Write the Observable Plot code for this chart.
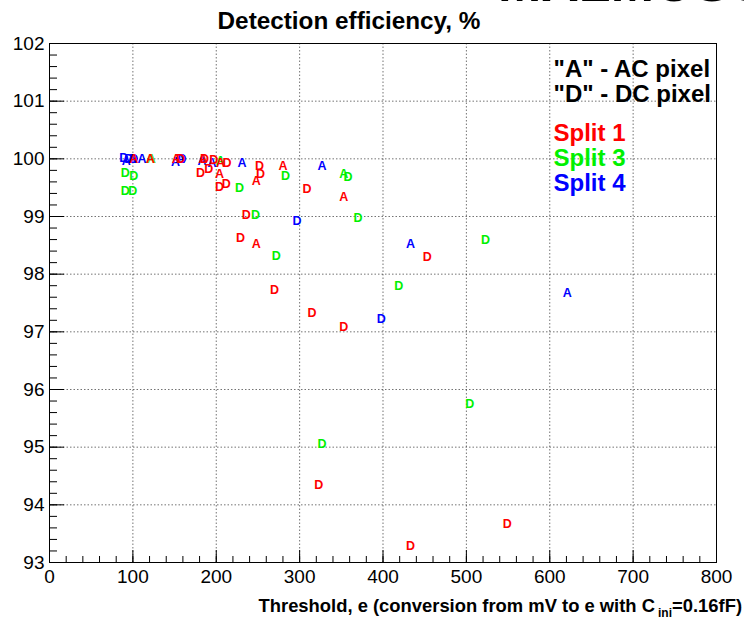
<!DOCTYPE html>
<html><head><meta charset="utf-8">
<script src="https://cdn.jsdelivr.net/npm/d3@7"></script>
<script src="https://cdn.jsdelivr.net/npm/@observablehq/plot@0.6"></script>
<style>
html,body{margin:0;padding:0;background:#fff;overflow:hidden;}
#wrap{position:relative;width:744px;height:620px;overflow:hidden;}
#banner{position:absolute;left:498px;top:-43px;font:bold 52px "Liberation Sans",Arial,sans-serif;white-space:nowrap;color:#000;line-height:1;z-index:2;}
#chart svg{font-family:"Liberation Sans",Arial,sans-serif;display:block;}
</style></head><body>
<div id="wrap"><div id="chart"></div><div id="banner">MALMOSCE</div></div>
<script>
// ---- data ----
const split1X   = [101,121,152,184,205,204,248,280,353,248, 157,186,197,181,191,213,252,253,309,204,212,236,229,270,315,353,453,323,549,433];
const split1Y   = [100.00,100.00,100.00,100.00,99.92,99.74,99.62,99.87,99.33,98.53, 100.00,100.00,99.98,99.76,99.83,99.92,99.87,99.73,99.47,99.52,99.57,99.03,98.62,97.72,97.32,97.08,98.29,94.34,93.66,93.28];
const split1Pix = ["A","A","A","A","A","A","A","A","A","A", "D","D","D","D","D","D","D","D","D","D","D","D","D","D","D","D","D","D","D","D"];

const split3X   = [122,205,353, 91,101,91,100,228,283,358,247,370,272,419,523,504,327];
const split3Y   = [100.00,99.97,99.73, 99.76,99.71,99.45,99.45,99.50,99.71,99.68,99.03,98.97,98.32,97.79,98.60,95.74,95.05];
const split3Pix = ["A","A","A", "D","D","D","D","D","D","D","D","D","D","D","D","D","D"];

const split4X   = [92,99,111,151,157,183,195,231,327,433,621, 89,95,101,159,297,398];
const split4Y   = [99.97,99.99,100.00,99.95,99.99,99.96,99.93,99.92,99.87,98.53,97.68, 100.01,99.99,100.00,100.00,98.93,97.23];
const split4Pix = ["A","A","A","A","A","A","A","A","A","A","A", "D","D","D","D","D","D"];

const splitNames  = ["Split 1","Split 3","Split 4"];
const splitColors = ["#ff0000","#00f000","#0000ff"];
const pixelNotes  = ['"A" - AC pixel','"D" - DC pixel'];

const xTicks = [0,100,200,300,400,500,600,700,800];
const yTicks = [93,94,95,96,97,98,99,100,101,102];

const titleText = "Detection efficiency, %";

// ---- build table ----
function rows(xs, ys, ps, k) { return xs.map((x,i)=>({x, y: ys[i], pix: ps[i], split: splitNames[k], color: splitColors[k]})); }
const points = [
  ...rows(split3X, split3Y, split3Pix, 1),
  ...rows(split4X, split4Y, split4Pix, 2),
  ...rows(split1X, split1Y, split1Pix, 0)
];

const W = 744, H = 620, mL = 49, mR = 28, mT = 43, mB = 58;
const fw = W - mL - mR, fh = H - mT - mB;
const xMinor = d3.range(0, 41).map(i => i*20);
const yMinor = d3.range(0, 46).map(i => 93 + i*0.2);
const xGrid = xTicks.slice(1, -1), yGrid = yTicks.slice(1, -1);

const legendMarks = [
  ...pixelNotes.map((t,i) => Plot.text([t], {frameAnchor:"top-left", dx: 504, dy: 33 + i*25, text: d=>d, textAnchor:"start", lineAnchor:"bottom", fontSize: 24, fontWeight:"bold", fill:"#000"})),
  ...splitNames.map((t,i) => Plot.text([t], {frameAnchor:"top-left", dx: 504, dy: 97 + i*25, text: d=>d, textAnchor:"start", lineAnchor:"bottom", fontSize: 24, fontWeight:"bold", fill: splitColors[i]}))
];

const plot = Plot.plot({
  width: W, height: H,
  marginLeft: mL, marginRight: mR, marginTop: mT, marginBottom: mB,
  x: {domain: [0, 800], label: null},
  y: {domain: [93, 102], label: null},
  color: {type: "identity"},
  style: {fontFamily: '"Liberation Sans", Arial, sans-serif', color: "#000", background: "#fff"},
  marks: [
    Plot.ruleX(xGrid, {stroke: "#000", strokeOpacity: 0.55, strokeDasharray: "1.5,2"}),
    Plot.ruleY(yGrid, {stroke: "#000", strokeOpacity: 0.55, strokeDasharray: "1.5,2"}),
    Plot.ruleX(xMinor, {insetTop: fh - 6, stroke: "#000"}),
    Plot.ruleX(xTicks, {insetTop: fh - 12, stroke: "#000"}),
    Plot.ruleY(yMinor, {insetRight: fw - 8, stroke: "#000"}),
    Plot.ruleY(yTicks, {insetRight: fw - 15, stroke: "#000"}),
    Plot.axisX(xTicks, {tickSize: 0, tickPadding: 7, fontSize: 19, tickFormat: d => d, fill: "#000"}),
    Plot.axisY(yTicks, {tickSize: 0, tickPadding: 5, fontSize: 19, tickFormat: d => d, fill: "#000"}),
    Plot.text(points, {x: "x", y: "y", text: "pix", fill: "color", fontSize: 12.5, fontWeight: "bold"}),
    Plot.frame({stroke: "#000"}),
    ...legendMarks
  ]
});
document.getElementById("chart").appendChild(plot);

const svg = d3.select(plot);
svg.append("text").attr("x", 349).attr("y", 29).attr("text-anchor", "middle")
  .attr("font-size", 24.3).attr("font-weight", "bold").attr("fill", "#000").text(titleText);
const t = svg.append("text").attr("x", 742).attr("y", 612).attr("text-anchor", "end")
  .attr("font-size", 18.4).attr("font-weight", "bold").attr("fill", "#000");
t.append("tspan").text("Threshold, e (conversion from mV to e with C");
t.append("tspan").attr("font-size", 12).attr("dy", 5).attr("dx", 3).text("ini");
t.append("tspan").attr("dy", -5).text("=0.16fF)");
</script>
</body></html>
